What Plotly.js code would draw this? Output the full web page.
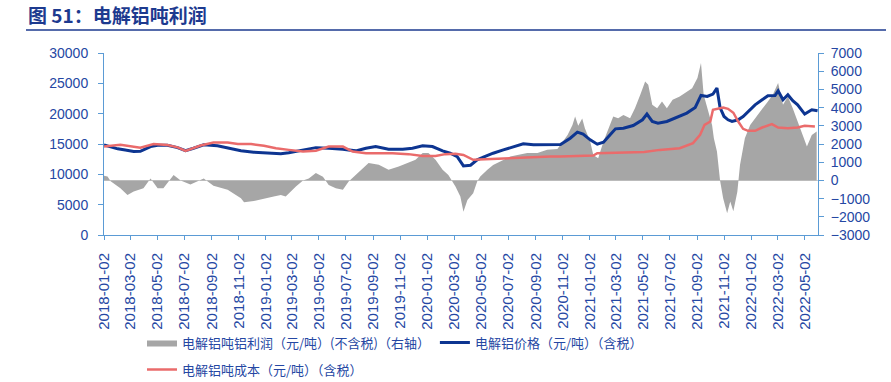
<!DOCTYPE html>
<html>
<head>
<meta charset="utf-8">
<script src="https://cdn.plot.ly/plotly-3.0.1.min.js"></script>
<style>html,body{margin:0;padding:0;background:#fff;}#chart{width:891px;height:382px;}</style>
</head>
<body>
<div id="chart"></div>
<script>
// ---- Data ----
const profitDates = ["2018-01-02","2018-01-10","2018-01-17","2018-02-08","2018-02-24","2018-03-10","2018-04-01","2018-04-17","2018-05-03","2018-05-16","2018-06-08","2018-06-24","2018-07-16","2018-08-08","2018-08-15","2018-09-06","2018-10-08","2018-11-07","2018-11-14","2018-12-06","2019-01-07","2019-01-20","2019-02-05","2019-02-16","2019-03-11","2019-03-27","2019-04-09","2019-04-25","2019-05-11","2019-05-24","2019-06-09","2019-06-25","2019-07-08","2019-07-24","2019-08-09","2019-08-22","2019-09-14","2019-10-06","2019-10-29","2019-11-20","2019-12-06","2019-12-22","2020-01-04","2020-01-20","2020-02-05","2020-02-18","2020-03-05","2020-03-16","2020-03-23","2020-04-01","2020-04-14","2020-04-23","2020-04-30","2020-05-16","2020-05-29","2020-06-14","2020-07-07","2020-07-23","2020-08-14","2020-09-06","2020-09-28","2020-10-21","2020-10-28","2020-11-13","2020-11-24","2020-11-30","2020-12-07","2020-12-16","2020-12-22","2021-01-03","2021-01-10","2021-01-21","2021-02-02","2021-02-13","2021-02-24","2021-03-07","2021-03-19","2021-04-03","2021-04-14","2021-04-26","2021-05-07","2021-05-14","2021-05-23","2021-06-03","2021-06-14","2021-06-25","2021-07-08","2021-07-24","2021-08-09","2021-08-21","2021-09-02","2021-09-10","2021-09-16","2021-09-26","2021-10-05","2021-10-09","2021-10-16","2021-10-23","2021-10-30","2021-11-08","2021-11-15","2021-11-22","2021-12-01","2021-12-07","2021-12-18","2021-12-30","2022-01-14","2022-01-28","2022-02-08","2022-02-19","2022-03-03","2022-03-14","2022-03-25","2022-04-05","2022-04-16","2022-04-28","2022-05-07","2022-05-18","2022-05-29"];
const profitValues = [250,210,-50,-430,-800,-615,-430,100,-430,-430,300,0,-220,0,100,-300,-520,-980,-1200,-1130,-980,-890,-800,-890,-340,0,100,400,200,-250,-430,-520,-60,300,670,950,860,580,760,950,1130,1500,1500,1130,580,300,-340,-890,-1720,-1080,-710,-60,210,580,850,1040,1310,1400,1500,1500,1680,1720,1950,2500,3050,3510,3000,3400,2870,2140,1400,1220,2140,2870,3510,3420,3600,3420,3970,4700,5440,5250,4150,3970,4330,3970,4430,4610,4890,5070,5630,6450,4700,3790,3050,2320,1590,0,-980,-1800,-1160,-1700,-620,850,2320,3050,3510,3970,4340,4700,5350,4150,4610,3970,3240,2500,1860,2500,2680];

const priceDates = ["2018-01-02","2018-01-17","2018-02-02","2018-02-19","2018-03-10","2018-03-25","2018-04-17","2018-05-03","2018-05-25","2018-06-17","2018-07-05","2018-07-23","2018-08-15","2018-09-15","2018-10-08","2018-11-07","2018-12-06","2019-01-07","2019-02-05","2019-02-23","2019-03-27","2019-04-25","2019-05-24","2019-06-25","2019-07-24","2019-08-16","2019-09-07","2019-10-06","2019-11-07","2019-11-29","2019-12-22","2020-01-13","2020-02-05","2020-02-22","2020-03-09","2020-03-23","2020-04-08","2020-04-23","2020-05-07","2020-05-29","2020-06-21","2020-07-14","2020-08-05","2020-08-28","2020-09-19","2020-10-12","2020-10-28","2020-11-19","2020-12-05","2020-12-18","2021-01-03","2021-01-19","2021-02-02","2021-02-17","2021-03-01","2021-03-19","2021-04-10","2021-05-01","2021-05-11","2021-05-23","2021-06-05","2021-06-25","2021-07-17","2021-08-09","2021-08-28","2021-09-10","2021-09-24","2021-10-07","2021-10-16","2021-10-23","2021-11-01","2021-11-10","2021-11-19","2021-12-03","2021-12-14","2021-12-25","2022-01-10","2022-01-26","2022-02-08","2022-02-24","2022-03-03","2022-03-14","2022-03-25","2022-04-05","2022-04-16","2022-05-02","2022-05-18","2022-05-31"];
const priceValues = [14860,14500,14200,14000,13750,13800,14580,14800,14800,14400,13900,14300,14860,14700,14400,13900,13650,13480,13400,13550,14030,14400,14300,14150,13870,14300,14580,14150,14150,14300,14700,14580,13870,13480,12930,11390,11500,12380,12820,13480,14030,14580,15020,14860,14860,14950,14900,15960,16950,16620,15680,14970,15300,16510,17500,17600,18050,18990,19930,18710,18430,18710,19370,20090,21020,23000,22840,23230,24220,21000,19540,18990,18710,18990,19540,20370,21460,22290,22950,23000,23770,22290,23110,22125,21460,19930,20640,20480];

const costDates = ["2018-01-02","2018-02-08","2018-03-25","2018-04-24","2018-05-25","2018-06-17","2018-07-05","2018-08-08","2018-09-06","2018-10-08","2018-10-31","2018-11-30","2018-12-29","2019-01-25","2019-02-23","2019-03-27","2019-04-25","2019-05-24","2019-06-25","2019-07-17","2019-08-16","2019-09-14","2019-10-15","2019-11-20","2019-12-22","2020-01-20","2020-02-11","2020-03-05","2020-03-23","2020-04-14","2020-05-07","2020-06-14","2020-07-23","2020-08-28","2020-10-05","2020-10-28","2021-01-10","2021-01-19","2021-03-28","2021-05-05","2021-06-09","2021-07-24","2021-08-23","2021-09-08","2021-09-18","2021-10-01","2021-10-07","2021-10-30","2021-11-10","2021-11-22","2021-12-03","2021-12-14","2021-12-25","2022-01-10","2022-01-26","2022-02-17","2022-03-03","2022-03-25","2022-04-16","2022-05-02","2022-05-25"];
const costValues = [14580,14860,14400,15000,14850,14450,13870,14750,15240,15240,15000,15000,14700,14300,14030,13750,13900,14580,14580,13750,13480,13480,13480,13330,13040,13040,13330,13400,13200,12400,12470,12600,12820,12930,12930,12930,13090,13480,13590,13700,14030,14300,15140,16510,18160,18710,20640,21020,20800,20150,18710,17500,17170,17170,17720,18270,17720,17610,17720,18000,17880];

const seriesNames = ["电解铝吨铝利润（元/吨）(不含税)（右轴）","电解铝价格（元/吨）（含税）","电解铝吨成本（元/吨）（含税）"];
const leftTicks = [0,5000,10000,15000,20000,25000,30000];
const rightTicks = [-3000,-2000,-1000,0,1000,2000,3000,4000,5000,6000,7000];
const chartTitle = "图 51：电解铝吨利润";

// ---- Styles ----
const FONT = "Liberation Sans, Arial, Noto Sans CJK SC, sans-serif";
const CJK = "Noto Sans CJK SC, Liberation Sans, sans-serif";
const TXT = "#2547a3";
const AX = "#5b9bd5";

const traces = [
  {x: profitDates, y: profitValues, name: seriesNames[0], type: "scatter", mode: "lines",
   fill: "tozeroy", fillcolor: "#a6a6a6", line: {color: "#a6a6a6", width: 0}, yaxis: "y", legend: "legend"},
  {x: priceDates, y: priceValues, name: seriesNames[1], type: "scatter", mode: "lines",
   line: {color: "#0d3591", width: 3}, yaxis: "y2", legend: "legend"},
  {x: costDates, y: costValues, name: seriesNames[2], type: "scatter", mode: "lines",
   line: {color: "#ea6b6b", width: 2.5}, yaxis: "y2", legend: "legend2"}
];

const legendBase = {orientation: "h", xanchor: "left", yanchor: "top",
  font: {family: CJK, size: 13, color: TXT}, bgcolor: "rgba(0,0,0,0)", borderwidth: 0};

const layout = {
  width: 891, height: 382,
  margin: {l: 104, r: 73, t: 53, b: 147, pad: 0, autoexpand: false},
  paper_bgcolor: "#fff", plot_bgcolor: "#fff",
  font: {family: FONT, color: TXT, size: 14},
  title: {text: "<b>" + chartTitle + "</b>", x: 28/891, xanchor: "left", xref: "container",
          y: 1 - 16.5/382, yanchor: "middle", yref: "container",
          font: {family: CJK, size: 19, color: "#1d3a8f"}},
  showlegend: true,
  legend: Object.assign({}, legendBase, {x: (142-104)/714, y: (235-327.5)/182}),
  legend2: Object.assign({}, legendBase, {x: (142-104)/714, y: (235-354.5)/182}),
  xaxis: {type: "date", range: ["2018-01-02", "2022-06-01"], tick0: "2018-01-02", dtick: "M2",
          tickformat: "%Y-%m-%d", tickangle: -90, showgrid: false, zeroline: false,
          showline: true, linecolor: AX, linewidth: 1, ticks: "outside", ticklen: 4, tickcolor: AX,
          ticklabelstandoff: 7,
          tickfont: {family: FONT, size: 15, color: TXT}, automargin: false, fixedrange: true},
  yaxis: {side: "right", range: [-3000, 7000], tickvals: rightTicks, tickformat: "d", showgrid: false,
          zeroline: true, zerolinecolor: "#d0d0d0", zerolinewidth: 1.5,
          showline: true, linecolor: AX, linewidth: 1, ticks: "outside", ticklen: 5, tickcolor: AX,
          ticklabelstandoff: 4,
          tickfont: {family: FONT, size: 14, color: TXT}, automargin: false},
  yaxis2: {side: "left", overlaying: "y", range: [0, 30000], tickvals: leftTicks, tickformat: "d", showgrid: false,
           zeroline: false, showline: true, linecolor: AX, linewidth: 1, ticks: "outside", ticklen: 5,
           tickcolor: AX, ticklabelstandoff: 7,
           tickfont: {family: FONT, size: 14, color: TXT}, automargin: false},
  shapes: [{type: "line", xref: "paper", yref: "paper", x0: (26-104)/714, x1: (886-104)/714,
            y0: (235-30)/182, y1: (235-30)/182, line: {color: "#1d3a8f", width: 1.5}}]
};

Plotly.newPlot("chart", traces, layout, {displayModeBar: false, staticPlot: true});
</script>
</body>
</html>
